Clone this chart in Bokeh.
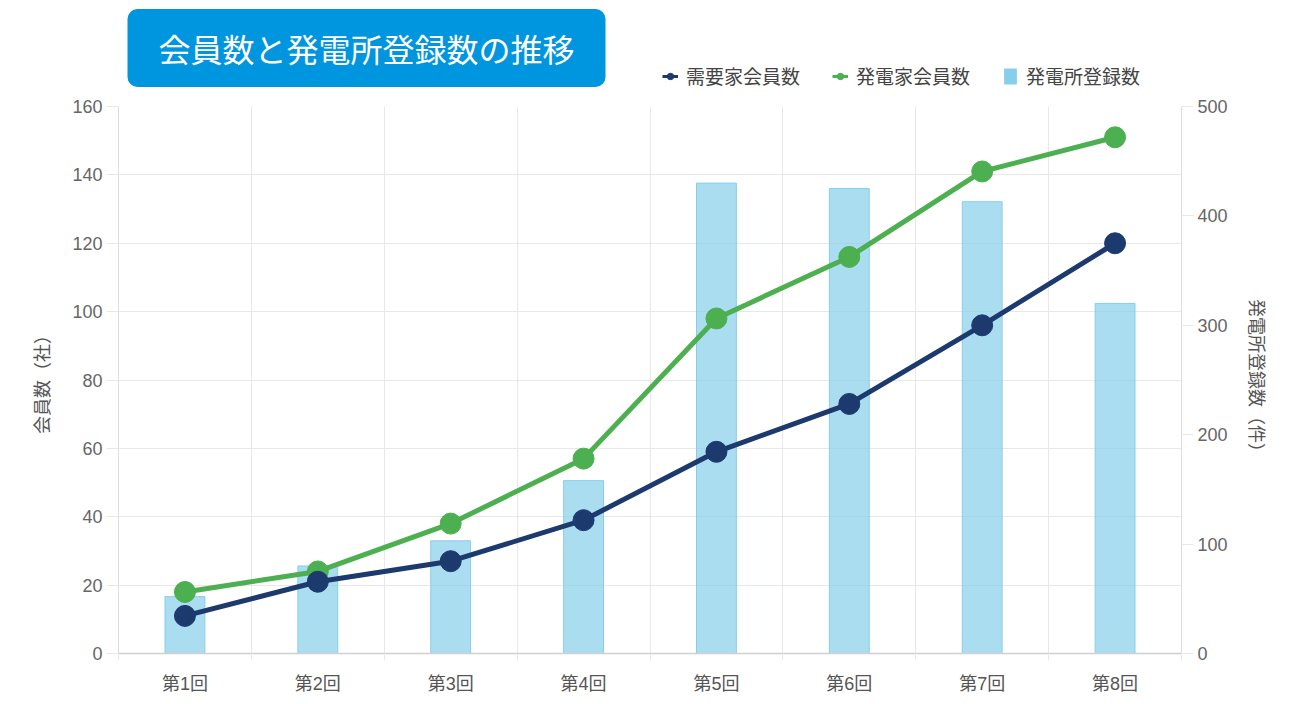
from bokeh.plotting import figure
from bokeh.models import Range1d, LinearAxis, FixedTicker, Label, Legend, LegendItem
from bokeh.layouts import column
from bokeh.embed import file_html
from bokeh.resources import INLINE

# ---- data ----
categories = ["第1回", "第2回", "第3回", "第4回", "第5回", "第6回", "第7回", "第8回"]
demand_members = [11, 21, 27, 39, 59, 73, 96, 120]        # 需要家会員数 (left axis)
generator_members = [18, 24, 38, 57, 98, 116, 141, 151]   # 発電家会員数 (left axis)
plant_registrations = [52, 80, 103, 158, 430, 425, 413, 320]  # 発電所登録数 (right axis)
left_ticks = [0, 20, 40, 60, 80, 100, 120, 140, 160]
right_ticks = [0, 100, 200, 300, 400, 500]
title_text = "会員数と発電所登録数の推移"
left_label = "会員数（社）"
right_label = "発電所登録数（件）"
series_names = ["需要家会員数", "発電家会員数", "発電所登録数"]

NAVY = "#1C3A6E"
GREEN = "#4CAF50"
BAR = "#87CEEB"
GRID = "#e8e8e8"
NUMF = "'Liberation Sans', 'Noto Sans CJK JP', sans-serif"
JP = "'Noto Sans CJK JP', sans-serif"

W = 1301
HEAD_H = 94
BL, BR = 118, 120   # left / right borders (frame spans 118..1181)

x = list(range(1, len(categories) + 1))
bounds = [i + 0.5 for i in range(len(categories) + 1)]

# ---------- header (title box + legend) ----------
# header frame is aligned with the main frame; its x range is in page pixels
head = figure(width=W, height=HEAD_H, output_backend="svg", toolbar_location=None,
              x_range=Range1d(BL, W - BR), y_range=Range1d(HEAD_H, 0),
              x_axis_location=None, y_axis_location=None,
              min_border_left=BL, min_border_right=BR, min_border_top=0, min_border_bottom=0)
head.outline_line_color = None
head.grid.visible = False
head.border_fill_color = "white"
head.background_fill_color = "white"

title = Label(x=366, y=47.5, text=title_text,
              text_align="center", text_baseline="middle", text_color="white",
              text_font=JP, text_font_size="32px",
              background_fill_color="#0095DF", border_radius=10,
              padding=dict(left=31, right=31, top=16, bottom=16))
head.add_layout(title)

# legend proxies (hidden; they only supply the legend glyphs)
l1 = head.line(x, demand_members, line_width=3, color=NAVY, visible=False)
s1 = head.scatter(x, demand_members, color=NAVY, visible=False)
l2 = head.line(x, generator_members, line_width=3, color=GREEN, visible=False)
s2 = head.scatter(x, generator_members, color=GREEN, visible=False)
b3 = head.vbar(x=x, top=plant_registrations, width=0.3, fill_color=BAR, fill_alpha=1.0,
               line_color=None, visible=False)

legend = Legend(items=[LegendItem(label=series_names[0], renderers=[l1, s1]),
                       LegendItem(label=series_names[1], renderers=[l2, s2]),
                       LegendItem(label=series_names[2], renderers=[b3])],
                location=(662 - BL, 5), orientation="horizontal", click_policy="none",
                border_line_color=None, background_fill_alpha=0,
                padding=0, margin=0, spacing=32, glyph_width=16, glyph_height=20,
                label_standoff=8, label_text_font=JP, label_text_font_size="19px",
                label_text_color="#444444")
head.add_layout(legend)

# ---------- main chart ----------
p = figure(width=W, height=696 - HEAD_H, output_backend="svg", toolbar_location=None,
           x_range=Range1d(0.5, len(categories) + 0.5), y_range=Range1d(left_ticks[0], left_ticks[-1]),
           min_border_left=BL, min_border_right=BR, min_border_top=12, min_border_bottom=41)
p.outline_line_color = None
p.background_fill_color = "white"
p.border_fill_color = "white"
p.extra_y_ranges = {"right": Range1d(right_ticks[0], right_ticks[-1])}

p.xgrid.ticker = FixedTicker(ticks=bounds)
p.xgrid.grid_line_color = GRID
p.ygrid.grid_line_color = GRID

xa = p.xaxis[0]
xa.ticker = FixedTicker(ticks=x, minor_ticks=bounds)
xa.major_label_overrides = {i: c for i, c in zip(x, categories)}
xa.major_tick_line_color = None
xa.major_tick_out = 7
xa.major_tick_in = 0
xa.minor_tick_line_color = GRID
xa.minor_tick_out = 7
xa.minor_tick_in = 0
xa.axis_line_color = "#d0d0d0"
xa.axis_line_width = 1.5
xa.major_label_standoff = 13
xa.major_label_text_font = NUMF
xa.major_label_text_font_size = "18px"
xa.major_label_text_color = "#555555"

ya = p.yaxis[0]
ya.ticker = FixedTicker(ticks=left_ticks)
ya.axis_label = left_label
ya.axis_label_text_font = JP
ya.axis_label_text_font_size = "18px"
ya.axis_label_text_font_style = "normal"
ya.axis_label_text_color = "#555555"
ya.axis_label_standoff = 15
ya.major_label_text_font = NUMF
ya.major_label_text_font_size = "18px"
ya.major_label_text_color = "#666666"
ya.major_tick_out = 12
ya.major_tick_in = 0
ya.major_tick_line_color = GRID
ya.minor_tick_line_color = None
ya.axis_line_color = "#dddddd"
ya.major_label_standoff = 4

ra = LinearAxis(y_range_name="right", ticker=FixedTicker(ticks=right_ticks))
ra.axis_label = right_label
ra.axis_label_text_font = JP
ra.axis_label_text_font_size = "18px"
ra.axis_label_text_font_style = "normal"
ra.axis_label_text_color = "#555555"
ra.axis_label_standoff = 14
ra.major_label_text_font = NUMF
ra.major_label_text_font_size = "18px"
ra.major_label_text_color = "#666666"
ra.major_tick_out = 12
ra.major_tick_in = 0
ra.major_tick_line_color = GRID
ra.minor_tick_line_color = None
ra.axis_line_color = "#dddddd"
ra.major_label_standoff = 4
p.add_layout(ra, "right")

p.vbar(x=x, top=plant_registrations, width=0.3, y_range_name="right",
       fill_color=BAR, fill_alpha=0.7, line_color=BAR, line_width=1)

p.line(x, generator_members, line_width=5, color=GREEN)
p.scatter(x, generator_members, size=21, color=GREEN)
p.line(x, demand_members, line_width=5, color=NAVY)
p.scatter(x, demand_members, size=21, color=NAVY)

layout = column(head, p, spacing=0)
open("out.html", "w").write(file_html(layout, INLINE))
